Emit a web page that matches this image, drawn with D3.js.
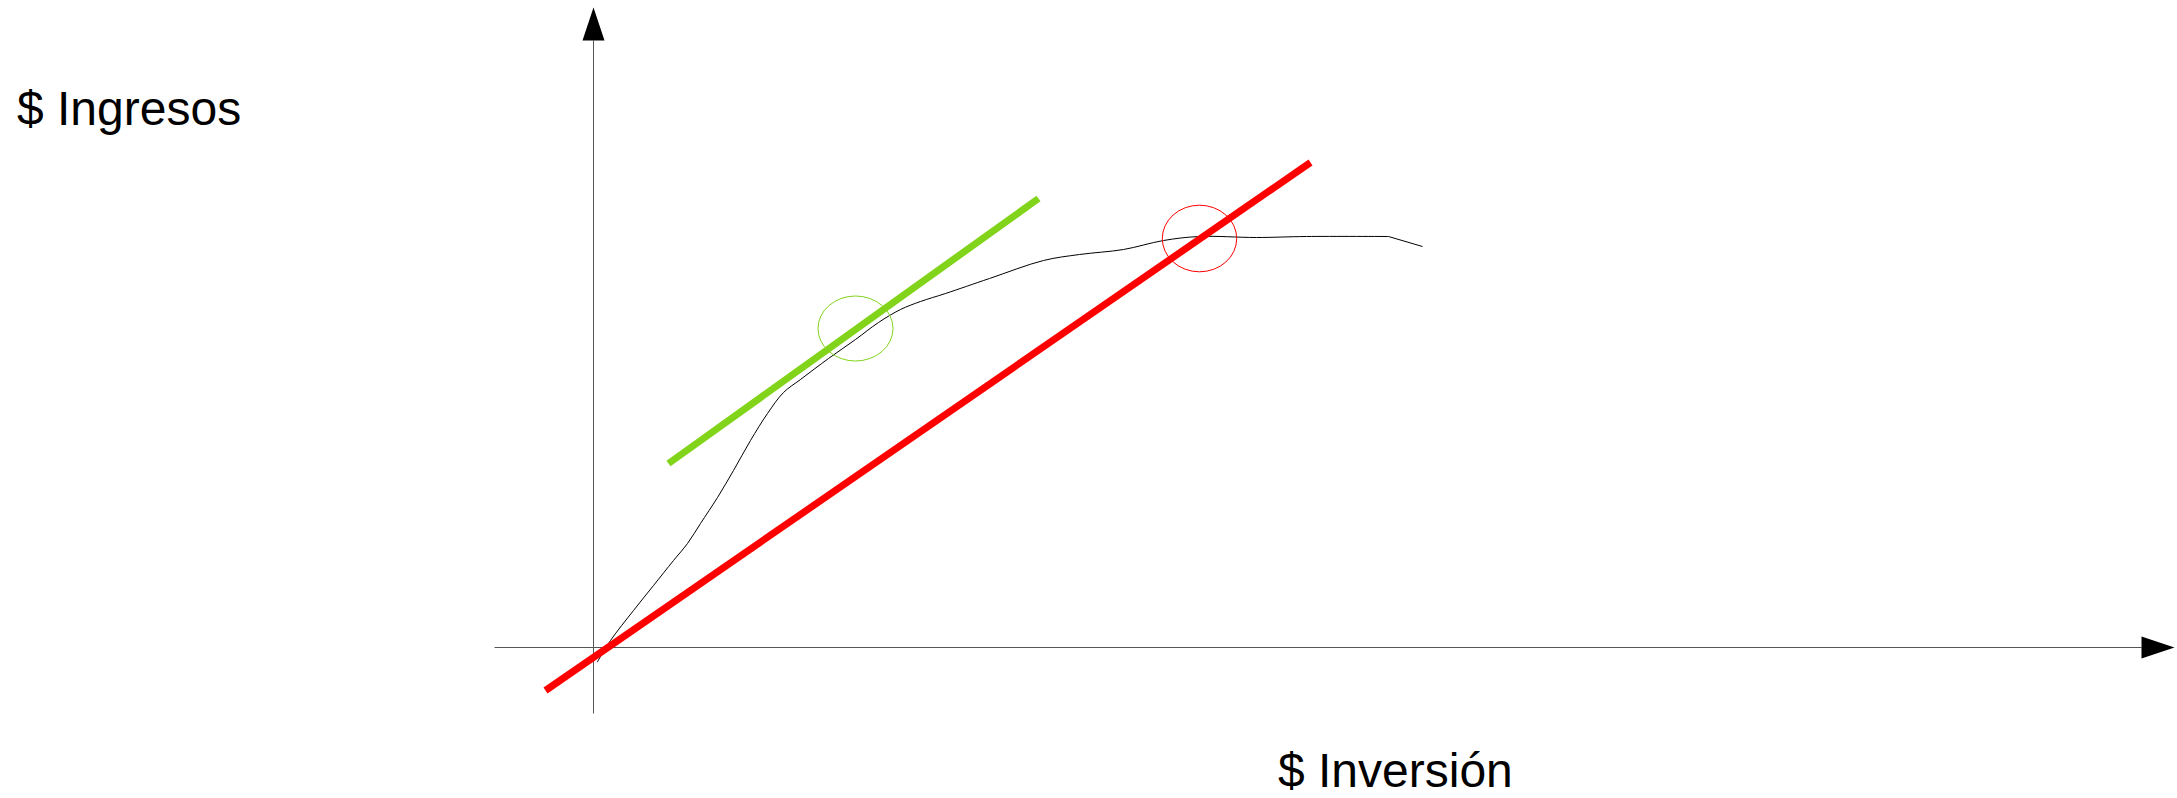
<!DOCTYPE html>
<html>
<head>
<meta charset="utf-8">
<script src="https://cdn.jsdelivr.net/npm/d3@7"></script>
<style>
  html, body { margin: 0; padding: 0; background: #fff; }
  svg { display: block; }
  text { font-family: "Liberation Sans", Arial, sans-serif; }
</style>
</head>
<body>
<svg id="chart" width="2177" height="798"></svg>
<script>
// ---- data (abstract units: investment on x, income on y) ----
const curveInvestment = [0.37, 1.7, 4.0, 6.0, 8.0, 9.4, 10.7, 12.4, 14.0, 15.7, 17.4, 19.0, 20.7, 23.5, 26.2, 28.5, 30.7, 32.7, 35.2, 39.6, 45.0, 48.6, 53.0, 57.0, 60.6, 66.3, 71.3, 79.5, 82.9];
const curveIncome     = [-1.47, 0.7, 3.7, 6.2, 8.7, 10.4, 12.4, 15.0, 17.7, 20.7, 23.4, 25.5, 26.8, 28.9, 30.8, 32.5, 33.8, 34.6, 35.4, 36.9, 38.7, 39.3, 39.8, 40.7, 41.1, 41.0, 41.1, 41.1, 40.1];

const greenLineX = [7.5, 44.5];
const greenLineY = [18.4, 44.9];
const redLineX = [-4.8, 71.7];
const redLineY = [-4.3, 48.5];

// highlight ellipses: [centerX, centerY, radiusX, radiusY]
const greenEllipse = [26.2, 31.9, 3.75, 3.25];
const redEllipse   = [60.6, 40.9, 3.72, 3.33];

const xAxisExtent = [-9.9, 154.8];   // line start, arrow base
const xAxisTip = 158.1;
const yAxisExtent = [-6.6, 60.7];
const yAxisTip = 64.0;

const yLabel = "$ Ingresos";
const xLabel = "$ Inversión";

// ---- scales ----
const x = d3.scaleLinear().domain([0, 100]).range([593.5, 1593.5]);
const y = d3.scaleLinear().domain([0, 10]).range([647.5, 547.5]);

const svg = d3.select("#chart");

// ---- axes ----
const axisColor = "#555";
svg.append("line")
  .attr("x1", x(xAxisExtent[0])).attr("x2", x(xAxisExtent[1]))
  .attr("y1", y(0)).attr("y2", y(0))
  .attr("stroke", axisColor).attr("stroke-width", 1);
svg.append("path")
  .attr("d", `M${x(xAxisTip)},${y(0)} L${x(xAxisExtent[1])},${y(0) - 11} L${x(xAxisExtent[1])},${y(0) + 11} Z`)
  .attr("fill", "#000");

svg.append("line")
  .attr("x1", x(0)).attr("x2", x(0))
  .attr("y1", y(yAxisExtent[0])).attr("y2", y(yAxisExtent[1]))
  .attr("stroke", axisColor).attr("stroke-width", 1);
svg.append("path")
  .attr("d", `M${x(0)},${y(yAxisTip)} L${x(0) - 11},${y(yAxisExtent[1])} L${x(0) + 11},${y(yAxisExtent[1])} Z`)
  .attr("fill", "#000");

// ---- curve (smooth part + final straight drop) ----
const pts = curveInvestment.map((v, i) => [v, curveIncome[i]]);
const n = pts.length;
const smooth = d3.line().x(d => x(d[0])).y(d => y(d[1])).curve(d3.curveCatmullRom.alpha(0.5));
const straight = d3.line().x(d => x(d[0])).y(d => y(d[1]));
svg.append("path")
  .attr("d", smooth(pts.slice(0, n - 1)))
  .attr("fill", "none").attr("stroke", "#000").attr("stroke-width", 1);
svg.append("path")
  .attr("d", straight(pts.slice(n - 2)))
  .attr("fill", "none").attr("stroke", "#000").attr("stroke-width", 1);

// ---- tangent lines ----
svg.append("path")
  .attr("d", straight(greenLineX.map((v, i) => [v, greenLineY[i]])))
  .attr("stroke", "#81d41a").attr("stroke-width", 7).attr("fill", "none");
svg.append("path")
  .attr("d", straight(redLineX.map((v, i) => [v, redLineY[i]])))
  .attr("stroke", "#ff0000").attr("stroke-width", 7).attr("fill", "none");

// ---- ellipses ----
function ellipse(e, color) {
  svg.append("ellipse")
    .attr("cx", x(e[0])).attr("cy", y(e[1]))
    .attr("rx", x(e[2]) - x(0)).attr("ry", y(0) - y(e[3]))
    .attr("fill", "none").attr("stroke", color).attr("stroke-width", 1);
}
ellipse(greenEllipse, "#81d41a");
ellipse(redEllipse, "#ff0000");

// ---- labels ----
svg.append("text").attr("x", 17).attr("y", 125)
  .attr("font-size", 48).attr("fill", "#000").text(yLabel);
svg.append("text").attr("x", 1278).attr("y", 787)
  .attr("font-size", 48).attr("fill", "#000").text(xLabel);
</script>
</body>
</html>
